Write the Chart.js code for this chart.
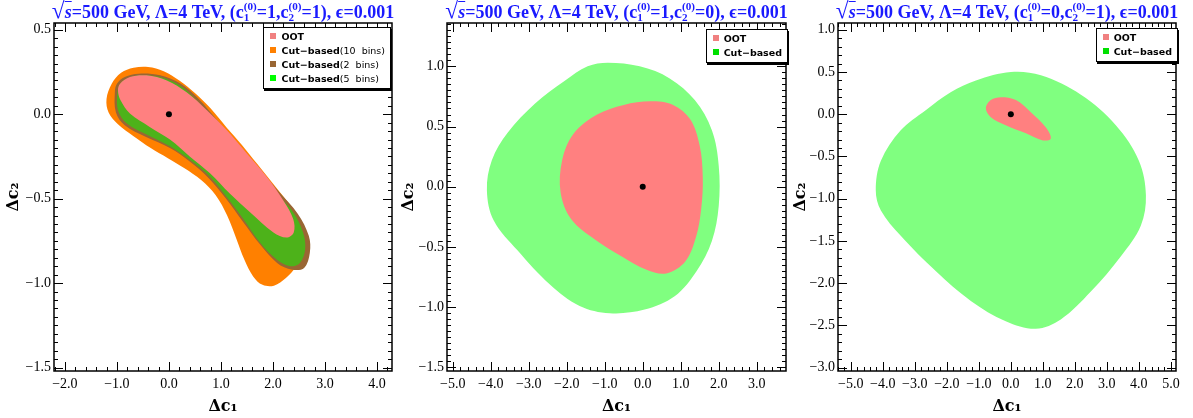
<!DOCTYPE html>
<html>
<head>
<meta charset="utf-8">
<script src="https://cdn.jsdelivr.net/npm/chart.js@4.4.1/dist/chart.umd.min.js"></script>
<style>
  html, body { margin: 0; padding: 0; background: #fff; width: 1193px; height: 418px; overflow: hidden; }
  .panel { position: absolute; top: 0; height: 418px; }
  .panel canvas { position: absolute; left: 0; top: 0; }
  .title { position: absolute; top: -1px; white-space: nowrap; color: #1a1aff;
           font: bold 18px "Liberation Serif", "Times New Roman", serif; transform: translateX(-50%); line-height: 22px; }
  .title .rt { font-size: 1.3em; font-weight: bold; }
  .title .ov { text-decoration: overline; font-style: italic; }
  .title .st { display: inline-block; vertical-align: -0.25em; font-size: 0.62em; line-height: 0.95em; text-align: left; }
  .title .st span { display: block; }
  .legend { position: absolute; background: #fff; border: 1px solid #000; box-shadow: 1px 2px 0 #000;
            padding: 2px 5px 2px 6px; font: bold 9.5px "DejaVu Sans", sans-serif; white-space: pre; color: #000; }
  .legend .row { height: 14px; line-height: 14px; }
  .legend .note { font-weight: normal; }
  .legend .sw { display: inline-block; width: 6px; height: 6px; margin-right: 5px; vertical-align: 1px; }
</style>
</head>
<body>
<script>
// Reference point (c1, c2) shift = (0, 0)
const refPoint = [[0, 0]];

// ---- Panel 1: c1(0)=1, c2(0)=1 ----
const p1XTicks = [-2, -1, 0, 1, 2, 3, 4];
const p1YTicks = [-1.5, -1, -0.5, 0, 0.5];
const p1Labels = ['OOT', 'Cut\u2212based(10  bins)', 'Cut\u2212based(2  bins)', 'Cut\u2212based(5  bins)'];
const p1OOT = [
  [-0.94, 0.18], [-0.75, 0.22], [-0.43, 0.23], [-0.04, 0.20], [0.34, 0.13], [0.73, 0.024],
  [1.11, -0.094], [1.49, -0.23], [1.88, -0.37], [2.20, -0.51], [2.39, -0.62], [2.40, -0.70],
  [2.26, -0.73], [2.01, -0.70], [1.56, -0.58], [1.17, -0.47], [0.79, -0.35], [0.40, -0.25],
  [0.02, -0.15], [-0.37, -0.075], [-0.75, 0.004], [-0.93, 0.082], [-0.98, 0.14]
];
const p1Cut10 = [
  [-1.20, 0.09], [-1.10, 0.18], [-0.92, 0.245], [-0.68, 0.275], [-0.40, 0.28], [-0.10, 0.255],
  [0.20, 0.20], [0.50, 0.125], [0.80, 0.035], [1.10, -0.075], [1.40, -0.18], [1.70, -0.295],
  [2.00, -0.41], [2.30, -0.525], [2.52, -0.62], [2.62, -0.72], [2.58, -0.82], [2.45, -0.90],
  [2.25, -0.97], [2.02, -1.015], [1.80, -1.01], [1.62, -0.96], [1.45, -0.86], [1.30, -0.74],
  [1.12, -0.60], [0.90, -0.48], [0.62, -0.39], [0.30, -0.32], [-0.02, -0.26], [-0.35, -0.20],
  [-0.68, -0.13], [-0.98, -0.06], [-1.16, 0.01]
];
const p1Cut2 = [
  [-1.04, 0.13], [-1.02, 0.012], [-0.85, -0.065], [-0.44, -0.135], [0.02, -0.20], [0.40, -0.28],
  [0.77, -0.38], [1.10, -0.50], [1.42, -0.635], [1.75, -0.77], [2.08, -0.88], [2.37, -0.92],
  [2.60, -0.91], [2.71, -0.82], [2.69, -0.72], [2.48, -0.59], [2.12, -0.46], [1.71, -0.32],
  [1.33, -0.18], [0.94, -0.04], [0.56, 0.094], [0.23, 0.18], [-0.17, 0.23], [-0.58, 0.24],
  [-0.85, 0.22], [-1.00, 0.18]
];
const p1Cut5 = [
  [-0.99, 0.13], [-0.98, 0.024], [-0.81, -0.055], [-0.43, -0.12], [0.02, -0.19], [0.40, -0.27],
  [0.79, -0.37], [1.11, -0.49], [1.43, -0.62], [1.75, -0.76], [2.07, -0.86], [2.33, -0.90],
  [2.52, -0.88], [2.62, -0.80], [2.58, -0.70], [2.39, -0.58], [2.07, -0.47], [1.69, -0.33],
  [1.30, -0.19], [0.92, -0.055], [0.53, 0.082], [0.21, 0.17], [-0.17, 0.22], [-0.56, 0.23],
  [-0.81, 0.21], [-0.94, 0.18]
];

// ---- Panel 2: c1(0)=1, c2(0)=0 ----
const p2XTicks = [-5, -4, -3, -2, -1, 0, 1, 2, 3];
const p2YTicks = [-1.5, -1, -0.5, 0, 0.5, 1];
const p2Labels = ['OOT', 'Cut\u2212based'];
const p2OOT = [
  [0.20, 0.71], [0.80, 0.68], [1.25, 0.56], [1.50, 0.34], [1.58, 0.08], [1.54, -0.18],
  [1.40, -0.42], [1.12, -0.62], [0.62, -0.72], [0.10, -0.69], [-0.55, -0.58], [-1.25, -0.44],
  [-1.88, -0.27], [-2.16, -0.05], [-2.12, 0.22], [-1.82, 0.44], [-1.20, 0.60], [-0.50, 0.68]
];
const p2Cut = [
  [-0.92, 1.03], [-0.08, 1.00], [0.71, 0.90], [1.37, 0.72], [1.82, 0.47], [2.00, 0.175],
  [2.00, -0.16], [1.82, -0.45], [1.42, -0.70], [0.84, -0.91], [0.05, -1.02], [-0.87, -1.05],
  [-1.66, -0.99], [-2.45, -0.81], [-3.29, -0.53], [-3.92, -0.28], [-4.10, -0.03], [-3.97, 0.22],
  [-3.55, 0.45], [-2.84, 0.69], [-2.05, 0.88], [-1.45, 1.00]
];

// ---- Panel 3: c1(0)=0, c2(0)=1 ----
const p3XTicks = [-5, -4, -3, -2, -1, 0, 1, 2, 3, 4, 5];
const p3YTicks = [-3, -2.5, -2, -1.5, -1, -0.5, 0, 0.5, 1];
const p3Labels = ['OOT', 'Cut\u2212based'];
const p3OOT = [
  [-0.625, 0.167], [-0.31, 0.20], [0.16, 0.167], [0.625, 0.024], [1.09, -0.155], [1.25, -0.286],
  [1.00, -0.31], [0.47, -0.226], [-0.16, -0.13], [-0.625, -0.036], [-0.78, 0.071]
];
const p3Cut = [
  [-1.09, 0.40], [0.00, 0.50], [0.94, 0.46], [2.19, 0.23], [3.28, -0.13], [4.00, -0.55],
  [4.22, -0.96], [4.06, -1.32], [3.44, -1.68], [2.50, -2.10], [1.56, -2.43], [0.78, -2.54],
  [-0.16, -2.45], [-1.25, -2.21], [-2.34, -1.86], [-3.44, -1.44], [-4.06, -1.14], [-4.22, -0.90],
  [-4.06, -0.55], [-3.44, -0.19], [-2.66, 0.048], [-1.88, 0.26]
];

// Colours
const PINK = '#ff8080', ORANGE = '#ff8000', BROWN = '#996633', GREEN_DARK = '#4db21a', GREEN_LIGHT = '#80ff80';

const TITLE_HTML = (a, b) =>
  '<span class="rt">\u221A</span><span class="ov">s</span>=500 GeV, \u039B=4 TeV, ' +
  '(c<span class="st"><span>(0)</span><span>1</span></span>=' + a +
  ',c<span class="st"><span>(0)</span><span>2</span></span>=' + b + '), \u03F5=0.001';

// Closed smooth contour: wrap the ends so the spline joins without a kink
function contour(pts) {
  const n = pts.length;
  const wrapped = [pts[n - 1], ...pts, pts[0], pts[1]];
  return wrapped.map(([x, y]) => ({ x, y }));
}

function fmt(v) {
  return (v < 0 ? '\u2212' : '') + Math.abs(v).toFixed(1);
}

// Frame around the plot area with inward ticks on all four sides
const framePlugin = {
  id: 'frame',
  afterDatasetsDraw(chart, args, opts) {
    const { ctx, chartArea: a, scales } = chart;
    ctx.save();
    ctx.strokeStyle = '#000';
    ctx.lineWidth = 1;
    ctx.beginPath();
    const sx = scales.x, sy = scales.y;
    const minorTicks = (s, step, majors) => {
      const out = [];
      const start = Math.ceil(s.min / step - 1e-6);
      const end = Math.floor(s.max / step + 1e-6);
      for (let k = start; k <= end; k++) {
        const v = k * step;
        if (!majors.some(m => Math.abs(m - v) < step / 10)) out.push(v);
      }
      return out;
    };
    const xTick = (v, len) => {
      const p = Math.round(sx.getPixelForValue(v)) + 0.5;
      ctx.moveTo(p, a.bottom); ctx.lineTo(p, a.bottom - len);
      ctx.moveTo(p, a.top); ctx.lineTo(p, a.top + len);
    };
    const yTick = (v, len) => {
      const p = Math.round(sy.getPixelForValue(v)) + 0.5;
      ctx.moveTo(a.left, p); ctx.lineTo(a.left + len, p);
      ctx.moveTo(a.right, p); ctx.lineTo(a.right - len, p);
    };
    opts.xMajor.forEach(v => xTick(v, 9));
    opts.yMajor.forEach(v => yTick(v, 9));
    minorTicks(sx, opts.xMinor, opts.xMajor).forEach(v => xTick(v, 4));
    minorTicks(sy, opts.yMinor, opts.yMajor).forEach(v => yTick(v, 4));
    ctx.stroke();
    ctx.lineWidth = 1.5;
    ctx.strokeRect(a.left, a.top, a.width, a.height);
    ctx.restore();
  }
};

function makePanel(p) {
  const div = document.createElement('div');
  div.className = 'panel';
  div.style.left = p.left + 'px';
  div.style.width = p.width + 'px';
  document.body.appendChild(div);
  const canvas = document.createElement('canvas');
  canvas.width = p.width; canvas.height = 418;
  canvas.style.width = p.width + 'px'; canvas.style.height = '418px';
  div.appendChild(canvas);

  const tickFont = { family: '"Liberation Serif", "Times New Roman", serif', size: 14 };
  const titleFont = { family: '"DejaVu Serif", serif', size: 16, weight: 'bold' };

  const datasets = [{
    data: refPoint.map(([x, y]) => ({ x, y })),
    pointRadius: 3, pointBackgroundColor: '#000', pointBorderWidth: 0, showLine: false
  }];
  p.series.forEach(s => datasets.push({
    data: contour(s.pts), showLine: true, fill: 'shape', tension: 0.35,
    backgroundColor: s.color, borderColor: 'rgba(0,0,0,0)', borderWidth: 0, pointRadius: 0
  }));

  const chart = new Chart(canvas, {
    type: 'scatter',
    data: { datasets },
    plugins: [framePlugin],
    options: {
      responsive: false, animation: false, devicePixelRatio: 1,
      layout: { padding: { left: 0, right: p.padRight, top: 23, bottom: 0 } },
      plugins: {
        legend: { display: false }, tooltip: { enabled: false },
        frame: { xMajor: p.xTicks, yMajor: p.yTicks, xMinor: p.xMinor, yMinor: p.yMinor }
      },
      scales: {
        x: {
          type: 'linear', min: p.xMin, max: p.xMax,
          afterBuildTicks: s => { s.ticks = p.xTicks.map(v => ({ value: v })); },
          afterFit: s => { s.height = 47; },
          ticks: { font: tickFont, color: '#000', padding: 5, maxRotation: 0, autoSkip: false, callback: fmt },
          grid: { display: false, drawTicks: false }, border: { display: false },
          title: { display: true, text: '\u0394c\u2081', font: titleFont, color: '#000', padding: { top: 0, bottom: 2 } }
        },
        y: {
          type: 'linear', min: p.yMin, max: p.yMax,
          afterBuildTicks: s => { s.ticks = p.yTicks.map(v => ({ value: v })); },
          afterFit: s => { s.width = p.yWidth; },
          ticks: { font: tickFont, color: '#000', padding: 3, autoSkip: false, callback: fmt },
          grid: { display: false, drawTicks: false }, border: { display: false },
          title: { display: true, text: '\u0394c\u2082', font: titleFont, color: '#000', padding: { top: p.yTitlePad, bottom: 0 } }
        }
      }
    }
  });

  const area = chart.chartArea;
  const title = document.createElement('div');
  title.className = 'title';
  title.innerHTML = TITLE_HTML(p.c1, p.c2);
  title.style.left = ((area.left + area.right) / 2) + 'px';
  div.appendChild(title);

  const legend = document.createElement('div');
  legend.className = 'legend';
  legend.style.right = (p.width - area.right + p.legendInset) + 'px';
  legend.style.top = (area.top + p.legendTop) + 'px';
  p.legend.forEach(([label, color]) => {
    const row = document.createElement('div');
    row.className = 'row';
    const sw = document.createElement('span');
    sw.className = 'sw'; sw.style.background = color;
    row.appendChild(sw);
    const cut = label.indexOf('(');
    row.appendChild(document.createTextNode(cut < 0 ? label : label.slice(0, cut)));
    if (cut >= 0) {
      const note = document.createElement('span');
      note.className = 'note';
      note.textContent = label.slice(cut);
      row.appendChild(note);
    }
    legend.appendChild(row);
  });
  div.appendChild(legend);
}

makePanel({
  left: 0, width: 397, padRight: 5, yWidth: 54, yTitlePad: 4,
  xMin: -2.21, xMax: 4.29, yMin: -1.52, yMax: 0.54,
  xTicks: p1XTicks, yTicks: p1YTicks, xMinor: 0.2, yMinor: 0.05,
  c1: 1, c2: 1, legendInset: 1, legendTop: 4,
  series: [
    { pts: p1OOT, color: PINK }, { pts: p1Cut5, color: GREEN_DARK },
    { pts: p1Cut2, color: BROWN }, { pts: p1Cut10, color: ORANGE }
  ],
  legend: [[p1Labels[0], '#f08080'], [p1Labels[1], ORANGE], [p1Labels[2], BROWN], [p1Labels[3], '#00ff00']]
});

makePanel({
  left: 397, width: 393, padRight: 4, yWidth: 50, yTitlePad: 2,
  xMin: -5.15, xMax: 3.77, yMin: -1.53, yMax: 1.36,
  xTicks: p2XTicks, yTicks: p2YTicks, xMinor: 0.2, yMinor: 0.05,
  c1: 1, c2: 0, legendInset: -2, legendTop: 6,
  series: [{ pts: p2OOT, color: PINK }, { pts: p2Cut, color: GREEN_LIGHT }],
  legend: [[p2Labels[0], '#f08080'], [p2Labels[1], '#00e000']]
});

makePanel({
  left: 790, width: 403, padRight: 17, yWidth: 48, yTitlePad: 1,
  xMin: -5.4, xMax: 5.16, yMin: -3.04, yMax: 1.08,
  xTicks: p3XTicks, yTicks: p3YTicks, xMinor: 0.2, yMinor: 0.1,
  c1: 0, c2: 1, legendInset: -2, legendTop: 5,
  series: [{ pts: p3OOT, color: PINK }, { pts: p3Cut, color: GREEN_LIGHT }],
  legend: [[p3Labels[0], '#f08080'], [p3Labels[1], '#00e000']]
});
</script>
</body>
</html>
